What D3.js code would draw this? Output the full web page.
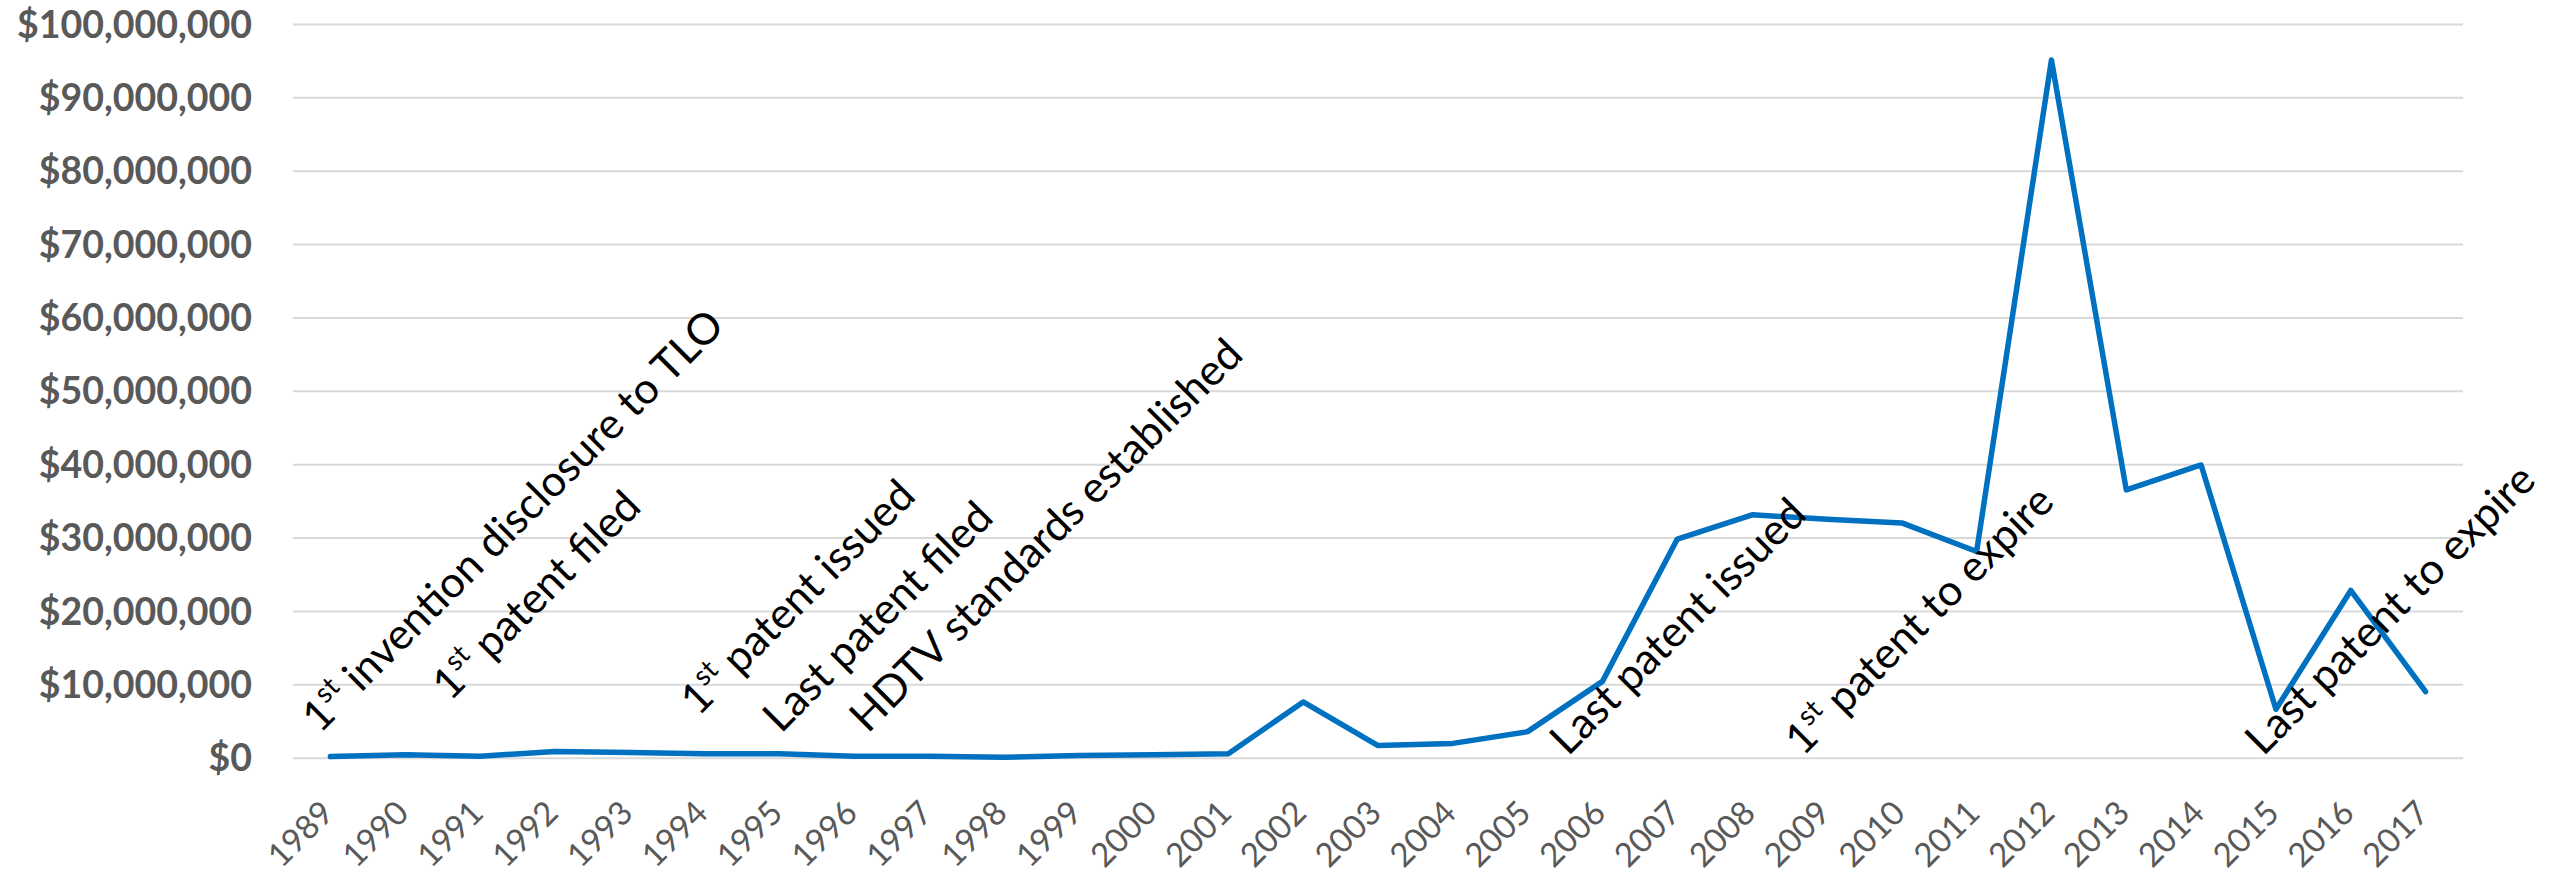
<!DOCTYPE html>
<html>
<head>
<meta charset="utf-8">
<script src="https://cdn.jsdelivr.net/npm/d3@7"></script>
<style>
  html, body { margin: 0; padding: 0; background: #ffffff; }
  svg { display: block; }
</style>
</head>
<body>
<div id="chart"></div>
<script>
// ---------- data ----------
const years = [1989,1990,1991,1992,1993,1994,1995,1996,1997,1998,1999,2000,2001,2002,2003,
               2004,2005,2006,2007,2008,2009,2010,2011,2012,2013,2014,2015,2016,2017];
const revenue = [0.15e6,0.4e6,0.2e6,0.85e6,0.7e6,0.55e6,0.55e6,0.2e6,0.2e6,0.05e6,0.3e6,0.4e6,0.55e6,7.6e6,1.65e6,
                 1.95e6,3.55e6,10.4e6,29.8e6,33.1e6,32.5e6,32.0e6,28.1e6,95.1e6,36.5e6,
                 39.9e6,6.6e6,22.8e6,9.0e6];
const yTicks = [0,10e6,20e6,30e6,40e6,50e6,60e6,70e6,80e6,90e6,100e6];

// annotation texts: [main prefix, superscript, rest]
const noteLabels = [
  ["1", "st", " invention disclosure to TLO"],
  ["1", "st", " patent filed"],
  ["1", "st", " patent issued"],
  ["Last patent filed", "", ""],
  ["HDTV standards established", "", ""],
  ["Last patent issued", "", ""],
  ["1", "st", " patent to expire"],
  ["Last patent to expire", "", ""]
];
// where each annotation's baseline starts, in chart units (year, dollars)
const noteYears  = [1988.86, 1990.60, 1993.92, 1995.02, 1996.18, 2005.54, 2008.68, 2014.83];
const noteValues = [3.2e6, 7.6e6, 5.55e6, 3.2e6, 3.2e6, 0.1e6, 0.1e6, 0.1e6];

// ---------- layout ----------
const W = 2554, H = 877;
const mLeft = 293, mRight = 2463, mTop = 24, mBottom = 757.7;
const FONT = "Lato, 'Open Sans', 'DejaVu Sans', sans-serif";

const svg = d3.select("#chart").append("svg")
  .attr("width", W).attr("height", H)
  .style("background", "#fff");

const x = d3.scaleBand().domain(years).range([mLeft, mRight]).padding(0);
const bw = x.bandwidth();
const cx = d => x(d) + bw / 2;
const xYear = d3.scaleLinear().domain([years[0], years[years.length - 1]])
  .range([cx(years[0]), cx(years[years.length - 1])]);
const y = d3.scaleLinear().domain([0, 100e6]).range([mBottom, mTop]);

// gridlines
const grid = svg.append("g").attr("transform", `translate(${mLeft},0)`)
  .call(d3.axisLeft(y).tickValues(yTicks).tickSize(-(mRight - mLeft)).tickFormat(""));
grid.select(".domain").remove();
grid.selectAll(".tick line").attr("stroke", "#d9d9d9").attr("stroke-width", 2);

// y labels
const yAx = svg.append("g").attr("transform", `translate(${mLeft},0)`)
  .call(d3.axisLeft(y).tickValues(yTicks).tickSize(0).tickPadding(41).tickFormat(d3.format("$,")));
yAx.select(".domain").remove();
yAx.selectAll("text")
  .attr("fill", "#595959")
  .style("font-family", FONT)
  .style("font-weight", "bold")
  .style("font-size", "37.5px")
  .attr("dy", "0.35em");

// x labels
const xAx = svg.append("g").attr("transform", `translate(0,${mBottom})`)
  .call(d3.axisBottom(x).tickSize(0));
xAx.select(".domain").remove();
xAx.selectAll("text")
  .attr("fill", "#595959")
  .style("font-family", FONT)
  .style("font-size", "33px")
  .attr("text-anchor", "end")
  .attr("x", 0).attr("y", 0)
  .attr("dy", "0.35em")
  .attr("transform", "translate(-3,49) rotate(-45)");

// line
const line = d3.line().x((d, i) => cx(years[i])).y(d => y(d));
svg.append("path")
  .datum(revenue)
  .attr("d", line)
  .attr("fill", "none")
  .attr("stroke", "#0070c0")
  .attr("stroke-width", 5.5)
  .attr("stroke-linejoin", "round")
  .attr("stroke-linecap", "round");

// annotations
const noteSize = 43;
noteLabels.forEach((parts, i) => {
  const t = svg.append("text").attr("class", "note")
    .attr("transform", `translate(${xYear(noteYears[i])},${y(noteValues[i])}) rotate(-45)`)
    .style("font-family", FONT)
    .style("font-size", noteSize + "px")
    .attr("fill", "#000");
  t.append("tspan").text(parts[0]);
  if (parts[1]) {
    t.append("tspan").text(parts[1])
      .style("font-size", (noteSize * 0.65) + "px")
      .attr("dy", -noteSize * 0.4);
    t.append("tspan").text(parts[2]).attr("dy", noteSize * 0.4);
  }
});
</script>
</body>
</html>
